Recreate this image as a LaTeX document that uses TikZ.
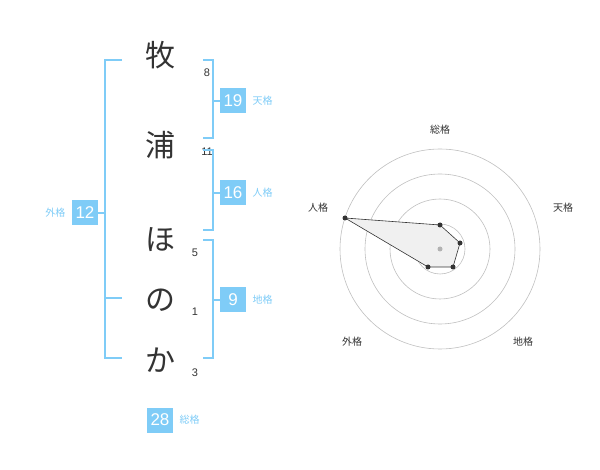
\documentclass[tikz,border=0pt]{standalone}
\usepackage{fontspec}
\setmainfont{Liberation Sans}
\newfontfamily\cjk{Noto Sans CJK JP}
\usetikzlibrary{positioning}
\definecolor{kblue}{HTML}{7FCCF7}
\definecolor{ktext}{HTML}{333333}

\begin{document}
\begin{tikzpicture}[x=1pt,y=-1pt,
                    bracket/.style={draw=kblue,line width=1.2pt},
                    bignum/.style={fill=kblue,text=white,minimum width=26pt,minimum height=25pt,inner sep=0pt,font=\fontsize{17}{17}\selectfont},
                    kaku/.style={text=kblue,font=\cjk\fontsize{10}{10}\selectfont},
                    kanji/.style={text=ktext,font=\cjk\fontsize{30}{30}\selectfont},
                    stroke/.style={text=ktext,font=\fontsize{11}{11}\selectfont},
                    rlabel/.style={text=ktext,font=\cjk\fontsize{10}{10}\selectfont},
                    pt/.style={circle,fill=ktext,inner sep=0pt,minimum size=5pt}]
    \useasboundingbox (0,0) rectangle (600,470);

    % name characters
    \node[kanji] (c1) at (160,55)  {牧};
    \node[kanji] (c2) at (160,145) {浦};
    \node[kanji] (c3) at (160,240) {ほ};
    \node[kanji] (c4) at (160,300) {の};
    \node[kanji] (c5) at (160,360) {か};
    \node[stroke] (n1) at (207,73)  {8};
    \node[stroke] (n2) at (207,152) {11};
    \node[stroke] (n3) at (195,253) {5};
    \node[stroke] (n4) at (195,312) {1};
    \node[stroke] (n5) at (195,373) {3};

    % brackets
    \draw[bracket] (122,60) -- (105,60) -- (105,358) -- (122,358);
    \draw[bracket] (105,298) -- (122,298);
    \draw[bracket] (203,60) -- (213,60) -- (213,138) -- (203,138);
    \draw[bracket] (203,150) -- (213,150) -- (213,230) -- (203,230);
    \draw[bracket] (203,240) -- (213,240) -- (213,358) -- (203,358);

    % boxes
    \node[bignum] (gai) at (85,213)  {12};
    \node[kaku, left=3pt of gai] (gail) {外格};
    \draw[bracket] (gai.east) -- (105,213);
    \node[bignum] (ten) at (233,101) {19};
    \node[kaku, right=3pt of ten] (tenl) {天格};
    \draw[bracket] (213,101) -- (ten.west);
    \node[bignum] (jin) at (233,193) {16};
    \node[kaku, right=3pt of jin] (jinl) {人格};
    \draw[bracket] (213,193) -- (jin.west);
    \node[bignum] (chi) at (233,300) {9};
    \node[kaku, right=3pt of chi] (chil) {地格};
    \draw[bracket] (213,300) -- (chi.west);
    \node[bignum] (sou) at (160,420) {28};
    \node[kaku, right=3pt of sou] (soul) {総格};

    % radar chart
    \coordinate (O) at (440,249);
    \foreach \r in {25,50,75,100}
        \draw[black!25,line width=0.6pt] (O) circle[radius=\r];
    \coordinate (p1) at (440,225);
    \coordinate (p2) at (460,243);
    \coordinate (p3) at (453,267);
    \coordinate (p4) at (428,267);
    \coordinate (p5) at (345,218);
    \draw[ktext,line width=0.6pt,fill=black!6] (p1) -- (p2) -- (p3) -- (p4) -- (p5) -- cycle;
    \foreach \p in {p1,p2,p3,p4,p5}
        \node[pt] at (\p) {};
    \node[circle,fill=black!30,inner sep=0pt,minimum size=5pt] at (O) {};
    \node[rlabel] (r1) at (440,130) {総格};
    \node[rlabel] (r2) at (563,208) {天格};
    \node[rlabel] (r3) at (523,342) {地格};
    \node[rlabel] (r4) at (352,342) {外格};
    \node[rlabel] (r5) at (318,208) {人格};
\end{tikzpicture}
\end{document}
